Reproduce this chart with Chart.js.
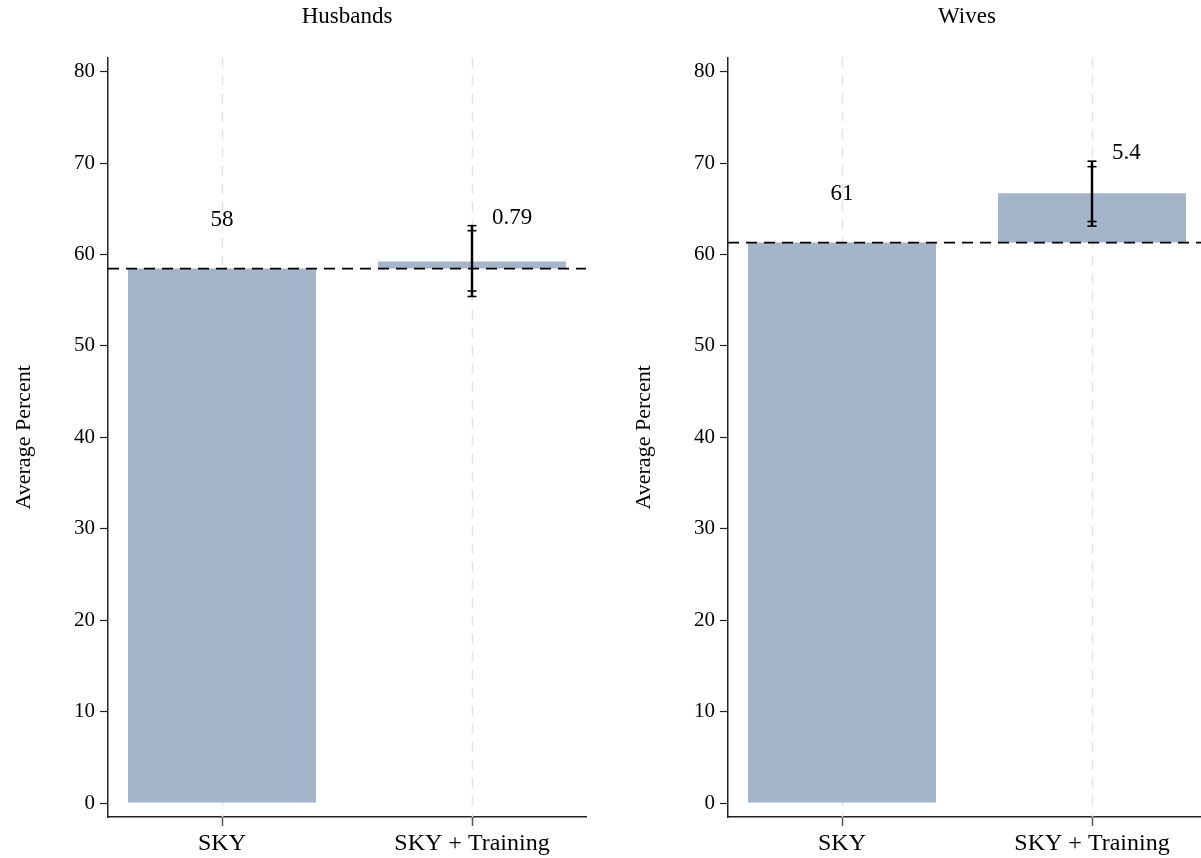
<!DOCTYPE html>
<html>
<head>
<meta charset="utf-8">
<title>Average Percent: SKY vs SKY + Training</title>
<script src="https://cdn.jsdelivr.net/npm/chart.js@4.4.1/dist/chart.umd.min.js"></script>
<style>
  html, body { margin: 0; padding: 0; background: #ffffff; }
  body { width: 1201px; height: 858px; overflow: hidden; position: relative; }
  canvas { position: absolute; top: 0; }
  #husbands { left: 0; }
  #wives { left: 620px; }
</style>
</head>
<body>
<canvas id="husbands" width="600" height="858"></canvas>
<canvas id="wives" width="600" height="858"></canvas>
<script>
// Categories and panel titles
const categories = ['SKY', 'SKY + Training'];
const panelTitles = ['Husbands', 'Wives'];

// Mean for the SKY group (baseline) and the added effect of training, per panel
const skyMeans = [58.45, 61.3];
const trainingEffects = [0.79, 5.4];

// Confidence intervals around the SKY + Training mean (wide and narrow)
const ciWideLow = [55.4, 63.1];
const ciWideHigh = [63.15, 70.2];
const ciNarrowLow = [56.0, 63.6];
const ciNarrowHigh = [62.6, 69.6];

// Y-axis tick values
const yTicks = [0, 10, 20, 30, 40, 50, 60, 70, 80];

const FONT = "'Liberation Serif', 'Times New Roman', Times, serif";
const BAR_COLOR = '#a4b4c9';

// Light dashed vertical guides at each category
const guideLines = {
  id: 'guideLines',
  beforeDatasetsDraw(chart) {
    const { ctx, chartArea, scales: { x } } = chart;
    ctx.save();
    ctx.strokeStyle = '#e3e3e3';
    ctx.lineWidth = 1.5;
    ctx.setLineDash([10, 8]);
    categories.forEach((_, k) => {
      const px = Math.round(x.getPixelForValue(k)) + 0.5;
      ctx.beginPath();
      ctx.moveTo(px, chartArea.top);
      ctx.lineTo(px, chartArea.bottom);
      ctx.stroke();
    });
    ctx.restore();
  }
};

// Dashed reference line at the SKY mean, error bars and value labels
const overlays = {
  id: 'overlays',
  afterDatasetsDraw(chart) {
    const i = chart.options.panelIndex;
    const { ctx, chartArea, scales: { x, y } } = chart;
    const base = skyMeans[i];

    // reference line
    ctx.save();
    ctx.strokeStyle = '#000';
    ctx.lineWidth = 1.8;
    ctx.setLineDash([11, 7]);
    const yb = y.getPixelForValue(base);
    ctx.beginPath();
    ctx.moveTo(chartArea.left, yb);
    ctx.lineTo(chartArea.right, yb);
    ctx.stroke();
    ctx.restore();

    // error bar on the training group
    const ex = x.getPixelForValue(1);
    ctx.save();
    ctx.strokeStyle = '#000';
    ctx.lineWidth = 2.4;
    ctx.beginPath();
    ctx.moveTo(ex, y.getPixelForValue(ciWideLow[i]));
    ctx.lineTo(ex, y.getPixelForValue(ciWideHigh[i]));
    ctx.stroke();
    ctx.lineWidth = 1.6;
    [ciWideLow[i], ciWideHigh[i], ciNarrowLow[i], ciNarrowHigh[i]].forEach(v => {
      const py = y.getPixelForValue(v);
      ctx.beginPath();
      ctx.moveTo(ex - 4.5, py);
      ctx.lineTo(ex + 4.5, py);
      ctx.stroke();
    });
    ctx.restore();

    // value labels
    ctx.save();
    ctx.fillStyle = '#000';
    ctx.font = '23px ' + FONT;
    ctx.textBaseline = 'middle';
    ctx.textAlign = 'center';
    ctx.fillText(String(Math.round(base)), x.getPixelForValue(0), yb - 48.5);
    ctx.textAlign = 'left';
    ctx.fillText(String(trainingEffects[i]), ex + 20, y.getPixelForValue(ciWideHigh[i]) - 8);
    ctx.restore();
  }
};

function buildPanel(canvasId, i) {
  const base = skyMeans[i];
  const top = base + trainingEffects[i];
  return new Chart(document.getElementById(canvasId), {
    type: 'bar',
    data: {
      datasets: [{
        data: [
          { x: 0, y: [0, base] },
          { x: 1, y: [base, top] }
        ],
        backgroundColor: BAR_COLOR,
        borderWidth: 0,
        categoryPercentage: 1,
        barPercentage: 0.752
      }]
    },
    options: {
      panelIndex: i,
      responsive: false,
      animation: false,
      devicePixelRatio: 1,
      layout: { padding: { left: 0, right: 14, top: 0, bottom: 0 } },
      plugins: {
        legend: { display: false },
        tooltip: { enabled: false },
        title: {
          display: true,
          fullSize: false,
          text: panelTitles[i],
          color: '#000',
          font: { family: FONT, size: 23, weight: 'normal' },
          padding: { top: 3, bottom: 27 }
        }
      },
      scales: {
        x: {
          type: 'linear',
          bounds: 'data',
          offset: false,
          min: -0.456,
          max: 1.456,
          afterBuildTicks: s => { s.ticks = categories.map((_, k) => ({ value: k })); },
          afterFit: s => { s.height = 41; },
          ticks: {
            callback: v => categories[v],
            color: '#000',
            font: { family: FONT, size: 24 },
            padding: 3,
            autoSkip: false,
            maxRotation: 0
          },
          grid: {
            offset: false,
            drawOnChartArea: false,
            drawTicks: true,
            tickLength: 9,
            tickColor: '#555',
            tickWidth: 1.5
          },
          border: { color: '#222', width: 1.5 }
        },
        y: {
          min: -1.53,
          max: 81.53,
          afterBuildTicks: s => { s.ticks = yTicks.map(v => ({ value: v })); },
          afterFit: s => { s.width = 108; },
          ticks: {
            color: '#000',
            font: { family: FONT, size: 21 },
            padding: 5
          },
          grid: {
            drawOnChartArea: false,
            drawTicks: true,
            tickLength: 8,
            tickColor: '#222',
            tickWidth: 1.2
          },
          border: { color: '#222', width: 1.5 },
          title: {
            display: true,
            text: 'Average Percent',
            color: '#000',
            font: { family: FONT, size: 22 },
            padding: { top: 11, bottom: 0 }
          }
        }
      }
    },
    plugins: [guideLines, overlays]
  });
}

buildPanel('husbands', 0);
buildPanel('wives', 1);
</script>
</body>
</html>
